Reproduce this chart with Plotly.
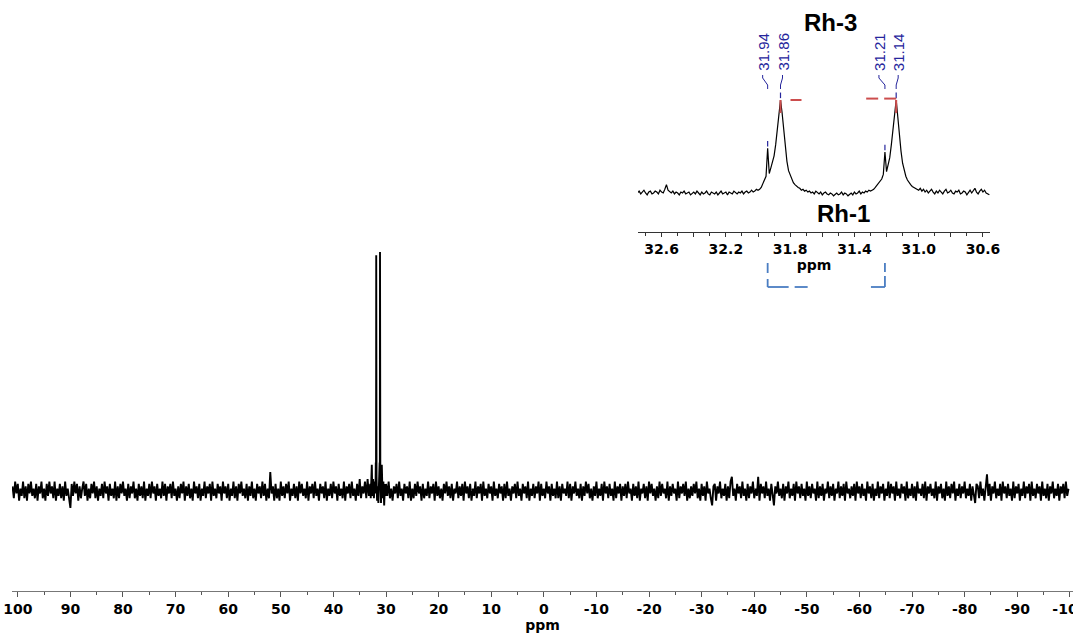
import numpy as np
import plotly.graph_objects as go

# ---------------- data ----------------
# main spectrum: baseline noise on a 0.25 ppm grid, left of the peaks (from 101.0 ppm down)
main_left_start = 101.0
main_step = 0.25
noise_left = [
    2, -3, 4, -1, 3, -4, 1, -2, 4, -3, 2, -4, 3, -1, 4, -2, 1, -3, 3, -4,
    2, -1, 4, -3, 1, -4, 3, -2, 4, -1, 2, -3, 4, -4, 1, -2, 3, -3, 2, -4,
    4, -2, 1, -3, -7, 3, -2, 4, -1, 3, -4, 2, -3, 1, 4, -2, 3, -4, 1, -3,
    3, -1, 4, -3, 2, -4, 1, -2, 3, -3, 4, -1, 2, -4, 3, -2, 1, -3, 4, -4,
    2, -3, 3, -1, 4, -2, 1, -4, 3, -3, 2, -1, 4, -3, 1, -4, 3, -2, 2, -3,
    4, -4, 1, -2, 3, -3, 4, -1, 2, -4, 3, -2, 1, -3, 4, -2, 3, -4, 2, -1,
    3, -3, 4, -2, 1, -4, 2, -3, 3, -1, 4, -4, 2, -2, 3, -3, 1, -4, 4, -1,
    2, -3, 3, -4, 1, -2, 4, -3, 2, -1, 3, -4, 4, -2, 1, -3, 3, -1, 2, -4,
    4, -1, 2, -3, 3, -4, 1, -2, 4, -3, 2, -4, 3, -1, 4, -2, 1, -3, 3, -4,
    2, -2, 4, -3, 1, -4, 3, -1, 2, -3, 4, -2, 3, -4, 1, -3, 8, -1, 2, -4,
    3, -3, 1, -4, 4, -2, 2, -3, 3, -1, 4, -4, 1, -2, 3, -3, 2, -4, 4, -1,
    3, -2, 1, -3, 4, -4, 2, -1, 3, -3, 4, -2, 1, -4, 3, -1, 2, -3, 4, -4,
    1, -2, 3, -3, 4, -1, 2, -4, 3, -2, 1, -3, 4, -4, 2, -1, 3, -3, 4, -2,
    1, -4, 3, -2, 5, -3, 2, -1, 4, -3, 5, -2, 3,
]
# right of the peaks (from 30.0 ppm down)
main_right_start = 30.0
noise_right = [
    3, -2, 4, -3, 1, -4, 2, -1, 3, -3, 4, -2, 1, -4, 3, -1, 2, -3, 4, -4,
    1, -3, 3, -2, 4, -1, 2, -4, 3, -3, 1, -2, 4, -3, 2, -1, 3, -4, 4, -2,
    2, -3, 1, -4, 3, -1, 4, -2, 2, -3, 3, -4, 1, -1, 4, -3, 2, -2, 3, -4,
    4, -1, 2, -3, 3, -4, 1, -2, 4, -3, 2, -1, 3, -4, 4, -2, 1, -3, 3, -1,
    2, -4, 4, -2, 1, -3, 3, -1, 2, -4, 3, -3, 4, -2, 1, -4, 2, -1, 3, -3,
    4, -2, 1, -4, 3, -1, 2, -3, 4, -4, 1, -2, 3, -3, 2, -1, 4, -4, 3, -2,
    1, -3, 4, -1, 2, -4, 3, -2, 1, -3, 4, -3, 2, -4, 3, -1, 1, -2, 4, -3,
    3, -4, 2, -1, 4, -2, 1, -3, 3, -4, 2, -2, 4, -1, 3, -3, 1, -4, 2, -2,
    4, -3, 1, -2, 3, -4, 4, -1, 2, -3, 3, -2, 1, -4, 4, -3, 2, -1, 3, -4,
    2, -2, 3, -3, 4, -1, 1, -4, 3, -2, 2, -3, 4, -4, 1, -1, 3, -3, 2, -4,
    4, -1, 3, -2, 1, -4, 2, -3, 4, -2, 3, -1, 1, -3, 4, -4, 2, -2, 3, -1,
    1, -4, 4, -3, 2, -1, 3, -2, 4, -4, 1, -3, 2, -2, 3, -1, 4, -3, 1, -4,
    3, -2, 2, -4, 4, -1, 1, -3, -6, 2, 3, -4, 2, -1, 4, -3, 1, -2, 3, -4,
    2, -3, 4, 6, -2, 1, -4, 3, -1, 2, -3, 4, -2, 1, -4, 3, -3, 2, -1, 4,
    -3, 1, -2, 6, -4, 3, -1, 2, -3, 4, -2, 1, -4, 3, -3, -6, 2, -1, 4, -2,
    1, -3, 3, -4, 2, -1, 4, -3, 1, -2, 3, -4, 4, -1, 2, -3, 3, -2, 1, -4,
    4, -2, 2, -3, 3, -1, 1, -4, 4, -3, 2, -2, 3, -4, 1, -1, 4, -3, 2, -2,
    3, -4, 1, -1, 4, -3, 2, -2, 3, -4, 4, -1, 1, -3, 2, -2, 3, -4, 4, -1,
    2, -3, 3, -2, 1, -4, 4, -1, 2, -3, 3, -4, 1, -2, 4, -3, 2, -1, 3, -4,
    1, -2, 4, -3, 3, -1, 2, -4, 4, -2, 1, -3, 3, -1, 2, -4, 4, -3, 1, -2,
    3, -3, 2, -4, 4, -1, 1, -2, 3, -3, 4, -4, 2, -1, 3, -2, 1, -3, 4, -4,
    2, -1, 3, -3, 1, -4, 4, -2, 2, -3, 3, -1, 4, -4, 1, -2, 3, -3, 2, -1,
    4, -3, 1, -2, 3, -4, 2, -1, -5, 3, 2, -3, 4, -2, 1, -4, 3, 7, -2, 3,
    -4, 2, -1, 4, -3, 1, -2, 3, -4, 4, -1, 2, -3, 3, -2, 1, -4, 4, -3, 2,
    -1, 3, -4, 1, -2, 4, -3, 2, -1, 3, -4, 4, -2, 1, -3, 3, -1, 2, -4, 4,
    -2, 1, -3, 3, -4, 2, -1, 4, -3, 1, -2, 3, -4, 2, -1, 3, -3, 4, -2, 1,
]
# peak region of the main spectrum (ppm, intensity)
peak_ppm = [32.9, 32.8, 32.7, 32.6, 32.45, 32.3, 32.15, 32.0, 31.94, 31.9, 31.87, 31.86,
            31.85, 31.8, 31.7, 31.6, 31.45, 31.3, 31.24, 31.21, 31.17, 31.15, 31.14,
            31.13, 31.08, 30.95, 30.8, 30.65, 30.5, 30.35, 30.2, 30.1]
peak_int = [-3, 3, 11, -2, 5, -3, 4, -1, 12, 5, 55, 98.7,
            55, 6, -4, 2, -5, 3, 5, 12, 6, 55, 100,
            55, 7, -5, 11, -3, 4, -6, 3, -2]

main_tick_vals = [100, 90, 80, 70, 60, 50, 40, 30, 20, 10, 0,
                  -10, -20, -30, -40, -50, -60, -70, -80, -90, -100]
main_tick_text = ["100", "90", "80", "70", "60", "50", "40", "30", "20", "10", "0",
                  "-10", "-20", "-30", "-40", "-50", "-60", "-70", "-80", "-90", "-100"]

# inset (expanded region), 0.01 ppm grid from 32.75 ppm down
inset_start = 32.75
inset_step = 0.01
inset_int = [
    0, 2, -1, 1, 3, 0, -2, 1, 2, -1, 0, 2, 1, -1, 3, 1, 0, 4, 9, 3,
    1, 0, 2, -1, 1, 0, -2, 1, 0, 2, -1, 0, 1, -2, 0, 1, -1, 2, 0, -2,
    1, -1, 0, 2, -1, -2, 1, 0, -1, 1, -2, 0, 2, -1, 0, 1, -2, 1, 0, -1,
    2, 0, -1, 1, 0, 2, -1, 1, 2, 0, 1, 3, 1, 2, 4, 3,
    4, 6, 10, 12, 18, 48, 21, 27, 35, 40, 52, 70, 90, 100, 86, 68, 45, 34, 24, 19,
    14, 11, 9, 7, 6, 5, 3, 4, 2,
    3, 1, 2, 0, 1, -1, 2, 0, -1, 1, -2, 0, 1, -1, -2, 0, -1, -3, -1, 0,
    -2, -1, 1, -2, 0, -1, -3, -1, 0, -2, 1, -1, 0, 2, -1, 1, 0, 2, 1, 3, 2, 3,
    4, 6, 8, 10, 12, 15, 20, 44, 23, 30, 38, 52, 68, 88, 100, 82, 62, 45, 32, 24,
    18, 14, 11, 9, 7, 6, 5, 4,
    3, 5, 2, 4, 1, 3, 0, 2, 4, 1, -1, 2, 0, 3, 1, -1, 2, 4, 0, 1,
    3, 0, -1, 2, 1, 3, -1, 0, 2, 1, -2, 1, 3, 0, 2, 5, 1, -1, 2, 4, 1, 3, 0, -1, -2,
]
inset_tick_vals = [32.6, 32.4, 32.2, 32.0, 31.8, 31.6, 31.4, 31.2, 31.0, 30.8, 30.6]
inset_tick_text = ["32.6", "", "32.2", "", "31.8", "", "31.4", "", "31.0", "", "30.6"]

# picked peaks shown in the inset: (shift, peak height in inset units, label offset px)
pick_ppm = [31.94, 31.86, 31.21, 31.14]
pick_height = [48, 100, 44, 100]
pick_label_dx = [-5, 2, -6, 2]

title_top = "Rh-3"
title_bottom = "Rh-1"

# ---------------- build series ----------------
x_left = main_left_start - main_step * np.arange(len(noise_left))
x_right = main_right_start - main_step * np.arange(len(noise_right))
main_x = np.concatenate([x_left, np.array(peak_ppm), x_right])
main_y = np.concatenate([np.array(noise_left, float), np.array(peak_int, float),
                         np.array(noise_right, float)])
order = np.argsort(-main_x)
main_x, main_y = main_x[order], main_y[order]

inset_x = inset_start - inset_step * np.arange(len(inset_int))
inset_y = np.array(inset_int, float)

# ---------------- geometry ----------------
W, H = 1073, 638
ML, MR, MT, MB = 12, 0, 10, 47
PW, PH = W - ML - MR, H - MT - MB


def fx(px):
    return (px - ML) / PW


def fy(py):
    return (H - MB - py) / PH


# inset axis pixel extents and ranges
IX0, IX1 = 638, 990
IR = [32.747, 30.556]
IY_BOT, IY_TOP = 232, 40
IYR = [-41.94, 164.5]
ppm_per_px = (IR[0] - IR[1]) / (IX1 - IX0)
y2_per_px = (IYR[1] - IYR[0]) / (IY_BOT - IY_TOP)


def y2(py):
    return IYR[0] + (IY_BOT - py) * y2_per_px


def dx(ppm, px):
    # shift a ppm position by px pixels to the right
    return ppm - px * ppm_per_px


fig = go.Figure()
fig.add_trace(go.Scatter(x=main_x, y=main_y, mode="lines",
                         line=dict(color="black", width=1.9), hoverinfo="skip",
                         showlegend=False, xaxis="x", yaxis="y"))
fig.add_trace(go.Scatter(x=inset_x, y=inset_y, mode="lines",
                         line=dict(color="black", width=1.2), hoverinfo="skip",
                         showlegend=False, xaxis="x2", yaxis="y2"))

tickfont = dict(family="DejaVu Sans", size=14, color="black", weight="bold")

fig.update_layout(
    width=W, height=H, autosize=False,
    margin=dict(l=ML, r=MR, t=MT, b=MB, pad=0),
    paper_bgcolor="white", plot_bgcolor="white",
    xaxis=dict(domain=[0, 1], range=[101.1, -100.6], anchor="y", automargin=False,
               tickmode="array", tickvals=main_tick_vals, ticktext=main_tick_text,
               ticklabeloverflow="allow",
               ticks="outside", ticklen=5, tickwidth=1, tickcolor="#555",
               showline=True, linecolor="#777", linewidth=1,
               showgrid=False, zeroline=False, tickfont=tickfont,
               minor=dict(ticks="outside", ticklen=3, tickcolor="#555",
                          tickmode="linear", tick0=5, dtick=10, showgrid=False),
               title=dict(text="ppm", font=tickfont, standoff=2)),
    yaxis=dict(domain=[0, 1], range=[-41.8, 201.3], visible=False, anchor="x"),
    xaxis2=dict(domain=[fx(IX0), fx(IX1)], range=IR, anchor="y2", automargin=False,
                tickmode="array", tickvals=inset_tick_vals, ticktext=inset_tick_text,
                ticks="outside", ticklen=4, tickwidth=1, tickcolor="#333",
                showline=True, linecolor="#333", linewidth=1,
                showgrid=False, zeroline=False, tickfont=tickfont,
                minor=dict(ticks="outside", ticklen=2.5, tickcolor="#333",
                           tickmode="linear", tick0=30.6, dtick=0.1, showgrid=False),
                title=dict(text="ppm", font=tickfont, standoff=2)),
    yaxis2=dict(domain=[fy(IY_BOT), fy(IY_TOP)], range=IYR, visible=False, anchor="x2"),
)

navy = "#25259c"
red = "#cc4d4d"
blue = "#4a7dc2"
shapes = []
annotations = []
for p, h, ldx in zip(pick_ppm, pick_height, pick_label_dx):
    lx = dx(p, ldx)
    annotations.append(dict(x=lx, y=y2(52), xref="x2", yref="y2", text=f"{p:.2f}",
                            textangle=-90, showarrow=False, xanchor="center", yanchor="middle",
                            font=dict(family="Liberation Sans", size=15, color=navy)))
    shapes.append(dict(type="path", xref="x2", yref="y2",
                       path=f"M {lx},{y2(75)} L {lx},{y2(78)} L {p},{y2(85)} L {p},{y2(89)}",
                       line=dict(color=navy, width=1)))
    shapes.append(dict(type="line", xref="x2", yref="y2", x0=p, x1=p,
                       y0=h + 2, y1=h + 8, line=dict(color=navy, width=1.2)))

# red peak-pick marks on the two main peaks
for p in (31.86, 31.14):
    shapes.append(dict(type="line", xref="x2", yref="y2", x0=p, x1=p, y0=100, y1=86,
                       line=dict(color=red, width=2)))
shapes.append(dict(type="line", xref="x2", yref="y2", x0=dx(31.86, 10), x1=dx(31.86, 21),
                   y0=100, y1=100, line=dict(color=red, width=2)))
shapes.append(dict(type="line", xref="x2", yref="y2", x0=dx(31.14, -30), x1=dx(31.14, -18),
                   y0=101.5, y1=101.5, line=dict(color=red, width=2)))
shapes.append(dict(type="line", xref="x2", yref="y2", x0=dx(31.14, -12), x1=31.14,
                   y0=101.5, y1=101.5, line=dict(color=red, width=2)))

# blue dashed bracket under the inset
bl, br = pick_ppm[0], pick_ppm[2]
segs = [
    (bl, 263, bl, 273), (bl, 279, bl, 287),
    (bl, 287, dx(bl, 21), 287), (dx(bl, 27), 287, dx(bl, 40), 287),
    (dx(br, -14), 287, br, 287),
    (br, 263, br, 272), (br, 276, br, 287),
]
for xa, ya, xb, yb in segs:
    shapes.append(dict(type="line", xref="x2", yref="paper", x0=xa, x1=xb,
                       y0=fy(ya), y1=fy(yb), line=dict(color=blue, width=1.8)))

titlefont = dict(family="Liberation Sans", size=24, color="black", weight="bold")
annotations.append(dict(x=IR[0] - (830 - IX0) * ppm_per_px, y=fy(23), xref="x2", yref="paper",
                        text=title_top, showarrow=False, xanchor="center", yanchor="middle",
                        font=titlefont))
annotations.append(dict(x=IR[0] - (843 - IX0) * ppm_per_px, y=fy(213), xref="x2", yref="paper",
                        text=title_bottom, showarrow=False, xanchor="center", yanchor="middle",
                        font=titlefont))

fig.update_layout(shapes=shapes, annotations=annotations)

fig.write_html("out.html", config={"displayModeBar": False},
               post_script="document.body.style.margin='0';document.body.style.overflow='hidden';")
